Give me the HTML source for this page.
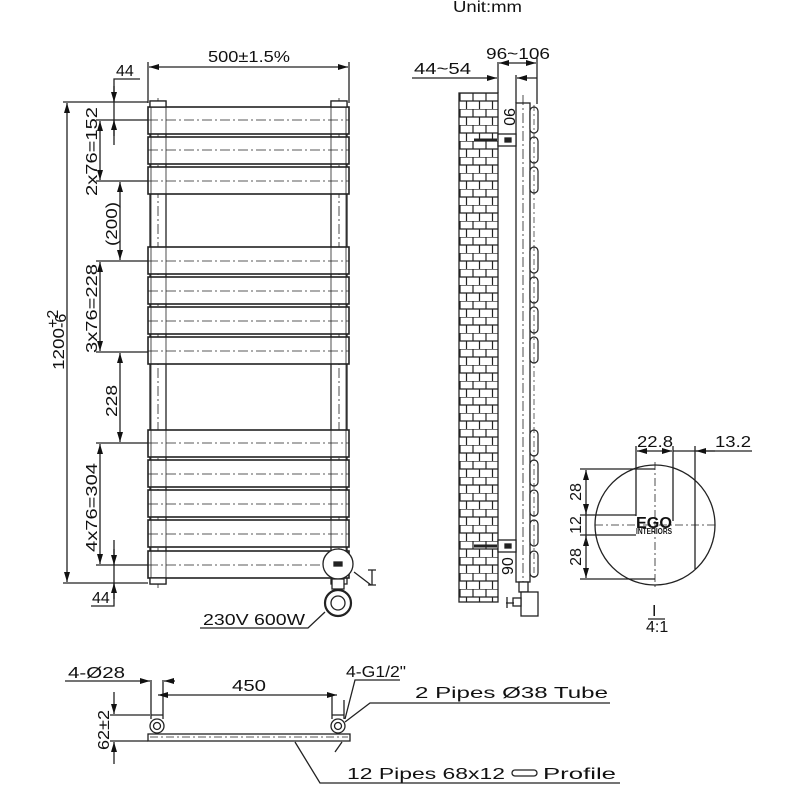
<!DOCTYPE html>
<html><head><meta charset="utf-8"><style>
html,body{margin:0;padding:0;background:#fff}
svg{display:block}
text{font-family:"Liberation Sans","DejaVu Sans",sans-serif;fill:#111;font-size:16px}
</style></head><body>
<svg width="800" height="800" viewBox="0 0 800 800" xmlns="http://www.w3.org/2000/svg">
<defs>
<pattern id="brick" x="459" y="93" width="26" height="16" patternUnits="userSpaceOnUse">
<path d="M0 0H26M0 8H26M1 0V8M14 0V8M7.5 8V16M20.5 8V16" stroke="#222" stroke-width="1.2" fill="none"/>
</pattern>
<marker id="a" viewBox="0 0 10 6" refX="10" refY="3" markerWidth="10" markerHeight="6" orient="auto-start-reverse" markerUnits="userSpaceOnUse"><path d="M0 0L10 3L0 6z" fill="#111"/></marker>
</defs>
<g stroke="#222" fill="none" stroke-width="1.3">
<text x="453" y="12" stroke="none" font-size="14" textLength="69" lengthAdjust="spacingAndGlyphs">Unit:mm</text>

<rect x="150" y="101" width="16" height="483"/>
<rect x="331" y="101" width="16" height="483"/>
<g stroke-dasharray="10 3 2 3" stroke-width="0.8">
<line x1="158" y1="98" x2="158" y2="588"/><line x1="339" y1="98" x2="339" y2="588"/>
</g>
<g fill="#fff" stroke-width="1.6">
<rect x="148" y="107" width="201" height="27"/><rect x="148" y="137" width="201" height="27"/><rect x="148" y="167" width="201" height="27"/>
<rect x="148" y="247" width="201" height="27"/><rect x="148" y="277" width="201" height="27"/><rect x="148" y="307" width="201" height="27"/><rect x="148" y="337" width="201" height="27"/>
<rect x="148" y="430" width="201" height="27"/><rect x="148" y="460" width="201" height="27"/><rect x="148" y="490" width="201" height="27"/><rect x="148" y="520" width="201" height="27"/><rect x="148" y="551" width="201" height="27"/>
</g>
<g stroke-width="0.8">
<line x1="151" y1="107" x2="151" y2="578"/><line x1="166" y1="107" x2="166" y2="578"/>
<line x1="331" y1="107" x2="331" y2="578"/><line x1="346" y1="107" x2="346" y2="578"/>
</g>
<g stroke-dasharray="10 3 2 3" stroke-width="0.8">
<line x1="148" y1="120" x2="349" y2="120"/><line x1="148" y1="150" x2="349" y2="150"/><line x1="148" y1="181" x2="349" y2="181"/>
<line x1="148" y1="261" x2="349" y2="261"/><line x1="148" y1="291" x2="349" y2="291"/><line x1="148" y1="321" x2="349" y2="321"/><line x1="148" y1="351" x2="349" y2="351"/>
<line x1="148" y1="443" x2="349" y2="443"/><line x1="148" y1="474" x2="349" y2="474"/><line x1="148" y1="504" x2="349" y2="504"/><line x1="148" y1="534" x2="349" y2="534"/><line x1="148" y1="565" x2="349" y2="565"/>
</g>
<circle cx="338" cy="564" r="15" fill="#fff"/>
<rect x="334" y="562" width="8" height="4" fill="#222"/>
<rect x="332" y="579" width="12" height="10" fill="#fff"/>
<circle cx="338" cy="603" r="13" fill="#fff" stroke-width="2.2"/><circle cx="338" cy="603" r="7"/>
<path d="M354 572L371 585H372M372 570V585M368 570H376M368 585H376"/>
<path d="M325 612L308 628H200"/>
<text x="203" y="625" stroke="none" textLength="102" lengthAdjust="spacingAndGlyphs">230V 600W</text>

<line x1="148" y1="62" x2="148" y2="103"/><line x1="349" y1="62" x2="349" y2="103"/>
<line x1="149" y1="67" x2="348" y2="67" marker-start="url(#a)" marker-end="url(#a)"/>
<text x="208" y="62" stroke="none" textLength="82" lengthAdjust="spacingAndGlyphs">500±1.5%</text>
<line x1="63" y1="102" x2="148" y2="102"/><line x1="63" y1="583" x2="148" y2="583"/>
<line x1="67" y1="103" x2="67" y2="582" marker-start="url(#a)" marker-end="url(#a)"/>
<text transform="translate(64,370) rotate(-90)" stroke="none" textLength="42" lengthAdjust="spacingAndGlyphs">1200</text>
<text transform="translate(58,328) rotate(-90)" stroke="none" font-size="8">+2</text>
<text transform="translate(66,328) rotate(-90)" stroke="none" font-size="8">-6</text>
<line x1="96" y1="120" x2="148" y2="120"/><line x1="96" y1="181" x2="148" y2="181"/><line x1="96" y1="261" x2="148" y2="261"/>
<line x1="96" y1="352" x2="148" y2="352"/><line x1="96" y1="443" x2="148" y2="443"/><line x1="96" y1="565" x2="148" y2="565"/>
<path d="M140 79H114V145"/><line x1="114" y1="86" x2="114" y2="102" marker-end="url(#a)"/><line x1="114" y1="136" x2="114" y2="120" marker-end="url(#a)"/>
<text x="116" y="76" stroke="none">44</text>
<line x1="100" y1="121" x2="100" y2="180" marker-start="url(#a)" marker-end="url(#a)"/>
<text transform="translate(97,196) rotate(-90)" stroke="none" textLength="89" lengthAdjust="spacingAndGlyphs">2x76=152</text>
<line x1="120" y1="182" x2="120" y2="260" marker-start="url(#a)" marker-end="url(#a)"/>
<text transform="translate(117,246) rotate(-90)" stroke="none" textLength="44" lengthAdjust="spacingAndGlyphs">(200)</text>
<line x1="100" y1="262" x2="100" y2="351" marker-start="url(#a)" marker-end="url(#a)"/>
<text transform="translate(97,353) rotate(-90)" stroke="none" textLength="89" lengthAdjust="spacingAndGlyphs">3x76=228</text>
<line x1="120" y1="353" x2="120" y2="442" marker-start="url(#a)" marker-end="url(#a)"/>
<text transform="translate(117,417) rotate(-90)" stroke="none" textLength="32" lengthAdjust="spacingAndGlyphs">228</text>
<line x1="100" y1="444" x2="100" y2="564" marker-start="url(#a)" marker-end="url(#a)"/>
<text transform="translate(97,552) rotate(-90)" stroke="none" textLength="89" lengthAdjust="spacingAndGlyphs">4x76=304</text>
<path d="M114 540V606H91"/><line x1="114" y1="549" x2="114" y2="565" marker-end="url(#a)"/><line x1="114" y1="599" x2="114" y2="583" marker-end="url(#a)"/>
<text x="92" y="603" stroke="none">44</text>
<rect x="150" y="101" width="16" height="6" fill="#fff"/><rect x="331" y="101" width="16" height="6" fill="#fff"/>
<rect x="150" y="578" width="16" height="6" fill="#fff"/>

<rect x="459" y="93" width="39" height="509" fill="url(#brick)"/>
<rect x="516" y="103" width="14" height="479" fill="#fff"/>
<line x1="523" y1="95" x2="523" y2="590" stroke-dasharray="10 3 2 3" stroke-width="0.8"/>
<g fill="#fff" stroke-width="1.2">
<rect x="530" y="107" width="8" height="26" rx="4"/><rect x="530" y="137" width="8" height="26" rx="4"/><rect x="530" y="167" width="8" height="26" rx="4"/>
<rect x="530" y="247" width="8" height="26" rx="4"/><rect x="530" y="277" width="8" height="26" rx="4"/><rect x="530" y="307" width="8" height="26" rx="4"/><rect x="530" y="337" width="8" height="26" rx="4"/>
<rect x="530" y="430" width="8" height="26" rx="4"/><rect x="530" y="460" width="8" height="26" rx="4"/><rect x="530" y="490" width="8" height="26" rx="4"/><rect x="530" y="520" width="8" height="26" rx="4"/><rect x="530" y="551" width="8" height="26" rx="4"/>
</g>
<line x1="534" y1="105" x2="534" y2="580" stroke-dasharray="6 3 2 3" stroke-width="0.7"/>
<rect x="498" y="134" width="18" height="12" fill="#fff"/><rect x="505" y="138" width="6" height="4" fill="#222"/>
<path d="M474 140H497" stroke-width="3"/>
<text transform="translate(504,108) rotate(90)" stroke="none" font-size="12">90</text>
<rect x="498" y="540" width="18" height="12" fill="#fff"/><rect x="505" y="544" width="6" height="4" fill="#222"/>
<path d="M474 546H497" stroke-width="3"/>
<text transform="translate(513,575) rotate(-90)" stroke="none" font-size="12">90</text>
<rect x="519" y="582" width="9" height="10" fill="#fff"/>
<rect x="521" y="592" width="17" height="24" fill="#fff"/>
<rect x="513" y="598" width="8" height="8" fill="#fff"/><path d="M506 603H514M507 597V608"/>
<line x1="498" y1="62" x2="498" y2="93"/><line x1="537" y1="58" x2="537" y2="104"/><line x1="516" y1="75" x2="516" y2="103"/>
<line x1="412" y1="78" x2="497" y2="78" marker-end="url(#a)"/><line x1="537" y1="78" x2="517" y2="78" marker-end="url(#a)"/>
<line x1="499" y1="63" x2="536" y2="63" marker-start="url(#a)" marker-end="url(#a)"/>
<text x="414" y="74" stroke="none" textLength="57" lengthAdjust="spacingAndGlyphs">44~54</text>
<text x="486" y="59" stroke="none" textLength="64" lengthAdjust="spacingAndGlyphs">96~106</text>

<circle cx="655" cy="525" r="60"/>
<line x1="655" y1="462" x2="655" y2="590" stroke-dasharray="8 3 2 3" stroke-width="0.8"/>
<line x1="595" y1="525" x2="715" y2="525" stroke-dasharray="8 3 2 3" stroke-width="0.8"/>
<line x1="636" y1="446" x2="636" y2="516"/><line x1="673" y1="446" x2="673" y2="521"/><line x1="695" y1="446" x2="695" y2="569"/>
<line x1="637" y1="451" x2="672" y2="451" marker-start="url(#a)" marker-end="url(#a)"/>
<line x1="673" y1="451" x2="752" y2="451"/><line x1="715" y1="451" x2="696" y2="451" marker-end="url(#a)"/>
<text x="637" y="447" stroke="none" textLength="36" lengthAdjust="spacingAndGlyphs">22.8</text><text x="715" y="447" stroke="none" textLength="36" lengthAdjust="spacingAndGlyphs">13.2</text>
<line x1="580" y1="469" x2="655" y2="469"/><line x1="580" y1="515" x2="636" y2="515"/><line x1="580" y1="535" x2="636" y2="535"/><line x1="580" y1="579" x2="655" y2="579"/>
<line x1="586" y1="470" x2="586" y2="514" marker-start="url(#a)" marker-end="url(#a)"/>
<line x1="586" y1="536" x2="586" y2="578" marker-start="url(#a)" marker-end="url(#a)"/>
<line x1="586" y1="508" x2="586" y2="542"/>
<text transform="translate(581,492) rotate(-90)" stroke="none" text-anchor="middle">28</text>
<text transform="translate(581,525) rotate(-90)" stroke="none" text-anchor="middle">12</text>
<text transform="translate(581,557) rotate(-90)" stroke="none" text-anchor="middle">28</text>
<text x="636" y="528" stroke="none" font-size="11" font-weight="bold" textLength="36" lengthAdjust="spacingAndGlyphs">EGO</text>
<text transform="translate(636,534) scale(0.5)" stroke="none" font-size="8" font-weight="bold" textLength="72" lengthAdjust="spacingAndGlyphs">INTERIORS</text>
<line x1="648" y1="619" x2="665" y2="619"/>
<text x="652" y="616" stroke="none" font-size="13">I</text>
<text x="646" y="632" stroke="none" font-size="13">4:1</text>

<rect x="148" y="734" width="202" height="7" fill="#fff"/>
<line x1="150" y1="737" x2="348" y2="737" stroke-dasharray="8 3 2 3" stroke-width="0.7"/>
<circle cx="157" cy="726" r="7" fill="#fff"/><circle cx="157" cy="726" r="3.5"/>
<circle cx="338" cy="726" r="7" fill="#fff"/><circle cx="338" cy="726" r="3.5"/>
<path d="M151 719V680M163 719V680M332 719V695M344 719V700M151 715H163M332 715H344"/>
<line x1="65" y1="681" x2="150" y2="681" marker-end="url(#a)"/><line x1="175" y1="681" x2="164" y2="681" marker-end="url(#a)"/>
<text x="68" y="678" stroke="none" textLength="57" lengthAdjust="spacingAndGlyphs">4-Ø28</text>
<line x1="158" y1="695" x2="337" y2="695" marker-start="url(#a)" marker-end="url(#a)"/>
<text x="232" y="691" stroke="none" textLength="34" lengthAdjust="spacingAndGlyphs">450</text>
<line x1="110" y1="715" x2="150" y2="715"/><line x1="110" y1="741" x2="148" y2="741"/>
<line x1="114" y1="692" x2="114" y2="714" marker-end="url(#a)"/><line x1="114" y1="764" x2="114" y2="742" marker-end="url(#a)"/>
<text transform="translate(109,750) rotate(-90)" stroke="none" textLength="40" lengthAdjust="spacingAndGlyphs">62±2</text>
<path d="M345 719L355 680H400"/>
<text x="346" y="677" stroke="none" textLength="60" lengthAdjust="spacingAndGlyphs">4-G1/2"</text>
<path d="M345 722L370 703H610"/>
<text x="415" y="698" stroke="none" textLength="193" lengthAdjust="spacingAndGlyphs">2 Pipes Ø38  Tube</text>
<line x1="342" y1="742" x2="335" y2="752"/>
<path d="M295 742L320 783H620"/>
<text x="347" y="779" stroke="none" textLength="158" lengthAdjust="spacingAndGlyphs">12 Pipes 68x12</text>
<rect x="512" y="770" width="25" height="6" rx="3"/>
<text x="543" y="779" stroke="none" textLength="73" lengthAdjust="spacingAndGlyphs">Profile</text>
</g>
</svg>
</body></html>
